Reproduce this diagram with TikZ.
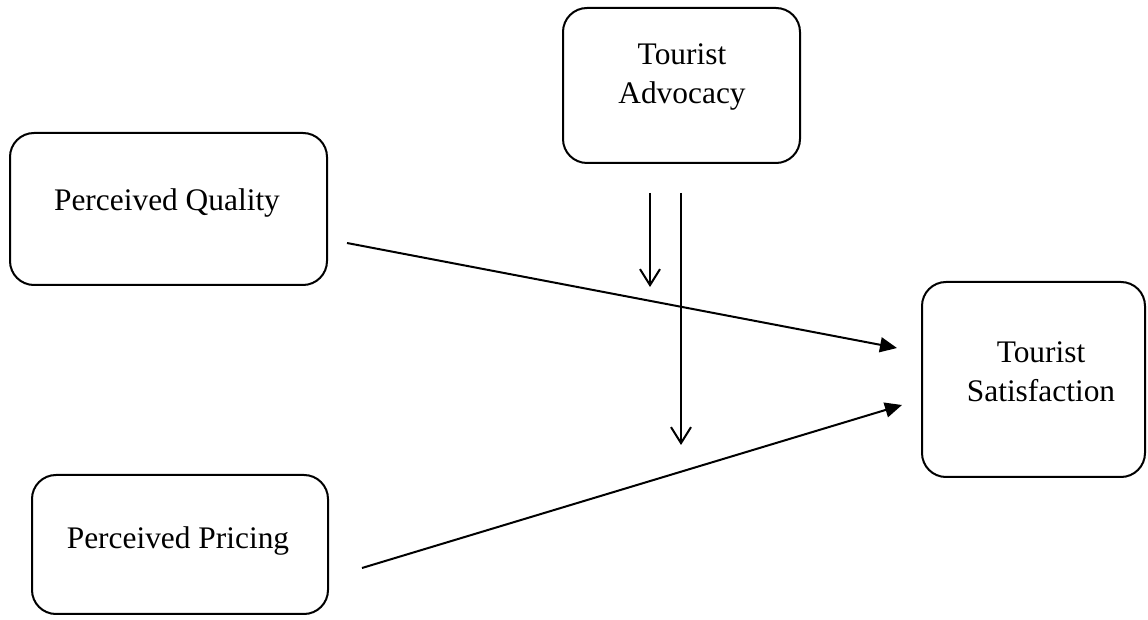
\documentclass[tikz,border=0pt]{standalone}
\usepackage{fontspec}
\setmainfont{Liberation Serif}
\usetikzlibrary{arrows.meta}

\begin{document}
\begin{tikzpicture}[x=0.5pt,y=-0.5pt,
  box/.style={draw,line width=1pt,rounded corners=12pt,inner sep=0pt},
  txt/.style={align=center,inner sep=0pt,font=\fontsize{15.7}{19.5}\selectfont},
  effect/.style={line width=1pt,-{Triangle[length=8.5pt,width=7.5pt]}},
  moderate/.style={line width=1pt,-{Straight Barb[length=8pt,width=10pt]}}]
  \useasboundingbox (0,0) rectangle (1148,620);
  \node[box,minimum width=118.5pt,minimum height=77.5pt] (adv) at (681.5,85.5) {};
  \node[txt] (advtext) at (682,77) {Tourist\\Advocacy};
  \node[box,minimum width=158.5pt,minimum height=76pt] (qual) at (168.5,209) {};
  \node[txt] (qualtext) at (167,203) {Perceived Quality};
  \node[box,minimum width=148pt,minimum height=69.5pt] (pric) at (180,544.5) {};
  \node[txt] (prictext) at (178,541) {Perceived Pricing};
  \node[box,minimum width=111.5pt,minimum height=97.5pt] (sat) at (1033.5,379.5) {};
  \node[txt] (sattext) at (1041,372) {Tourist\\Satisfaction};
  \coordinate (qualout) at (347,243);
  \coordinate (satin1) at (897,348);
  \coordinate (pricout) at (362,568);
  \coordinate (satin2) at (902,405);
  \coordinate (advout1) at (650,193);
  \coordinate (advend1) at (650,287);
  \coordinate (advout2) at (681,193);
  \coordinate (advend2) at (681,445);
  \draw[effect] (qualout) -- (satin1);
  \draw[effect] (pricout) -- (satin2);
  \draw[moderate] (advout1) -- (advend1);
  \draw[moderate] (advout2) -- (advend2);
\end{tikzpicture}
\end{document}
